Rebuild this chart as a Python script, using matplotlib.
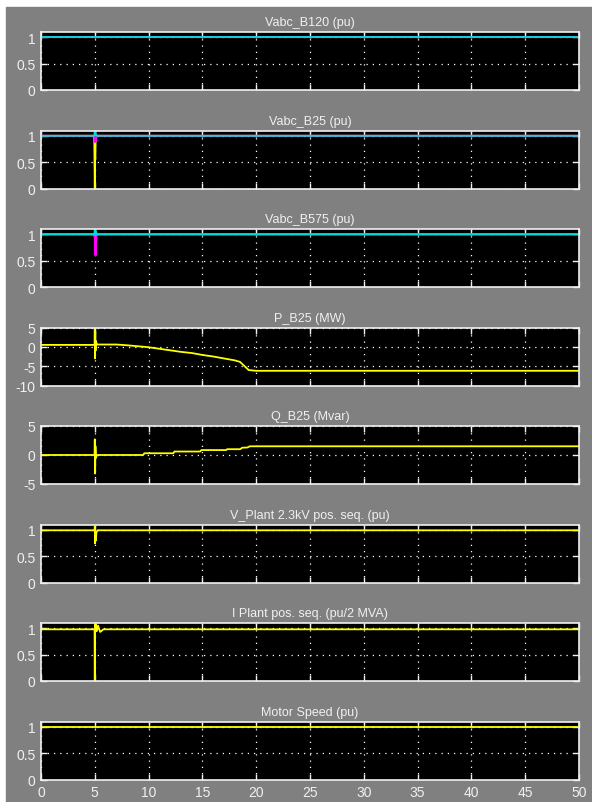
import matplotlib
matplotlib.use("Agg")
import matplotlib.pyplot as plt
from matplotlib.patches import Rectangle

plt.rcParams["font.family"] = ["Liberation Sans", "DejaVu Sans"]
plt.rcParams["axes.unicode_minus"] = False

YELLOW = "#ffff00"
MAGENTA = "#ff00ff"
CYAN = "#00dcdc"
FG = "#f0f0f0"

# time axis used for all traces (s)
t_flat = [0, 50]
t_fault = [0, 4.95, 5.0, 5.02, 5.05, 5.08, 5.12, 5.2, 50]

# Vabc_B120 (pu)
b120_a = [1.0, 1.0]
b120_b = [1.0, 1.0]
b120_c = [1.0, 1.0]

# Vabc_B25 (pu)
b25_a = [1.0, 1.0, 0.0, 0.6, 0.55, 0.92, 0.96, 1.0, 1.0]
b25_b = [1.0, 1.0, 1.03, 0.88, 0.93, 0.9, 0.96, 1.0, 1.0]
b25_c = [1.0, 1.0, 1.08, 1.03, 1.09, 1.01, 1.02, 1.0, 1.0]

# Vabc_B575 (pu)
b575_a = [1.0, 1.0, 0.94, 0.97, 0.99, 0.96, 0.99, 1.0, 1.0]
b575_b = [1.0, 1.0, 0.95, 0.62, 0.78, 0.6, 0.84, 1.0, 1.0]
b575_c = [1.0, 1.0, 1.08, 1.03, 1.09, 0.98, 1.04, 1.0, 1.0]

# P_B25 (MW)
t_p = [0, 4.98, 5.0, 5.02, 5.04, 5.07, 5.1, 5.2, 7, 8, 10, 11, 12, 13, 14,
       15, 16, 17, 18, 18.5, 19.3, 20, 50]
p_b25 = [0.5, 0.5, 5.0, -3.0, 4.0, -1.0, 1.5, 0.6, 0.6, 0.4, -0.1, -0.5,
         -0.9, -1.3, -1.6, -2.1, -2.5, -3.0, -3.5, -3.9, -6.0, -6.2, -6.2]

# Q_B25 (Mvar)
t_q = [0, 4.98, 5.0, 5.03, 5.06, 5.1, 5.2, 9.5, 9.6, 12.3, 12.4, 14.8, 14.9,
       17.2, 17.3, 18.5, 18.7, 19.2, 19.4, 50]
q_b25 = [0, 0, 2.7, -3.2, 1.5, -0.5, 0, 0, 0.3, 0.3, 0.6, 0.6, 0.85, 0.85,
         1.0, 1.0, 1.25, 1.3, 1.5, 1.5]

# V_Plant 2.3kV pos. seq. (pu)
t_vp = [0, 4.98, 5.0, 5.03, 5.06, 5.1, 5.15, 5.25, 50]
v_plant = [0.99, 0.99, 1.06, 0.74, 0.88, 0.8, 0.95, 0.99, 0.99]

# I Plant pos. seq. (pu/2 MVA)
t_ip = [0, 4.98, 5.0, 5.02, 5.05, 5.1, 5.2, 5.3, 5.5, 5.8, 50]
i_plant = [0.98, 0.98, 0.0, 1.08, 0.93, 1.08, 0.95, 1.05, 0.93, 0.98, 0.98]

# Motor Speed (pu)
motor_speed = [0.99, 0.99]

titles = ["Vabc_B120 (pu)", "Vabc_B25 (pu)", "Vabc_B575 (pu)", "P_B25 (MW)",
          "Q_B25 (Mvar)", "V_Plant 2.3kV pos. seq. (pu)",
          "I Plant pos. seq. (pu/2 MVA)", "Motor Speed (pu)"]

panels = [
    [(t_flat, b120_a, YELLOW), (t_flat, b120_b, MAGENTA), (t_flat, b120_c, CYAN)],
    [(t_fault, b25_a, YELLOW), (t_fault, b25_b, MAGENTA), (t_fault, b25_c, CYAN)],
    [(t_fault, b575_a, YELLOW), (t_fault, b575_b, MAGENTA), (t_fault, b575_c, CYAN)],
    [(t_p, p_b25, YELLOW)],
    [(t_q, q_b25, YELLOW)],
    [(t_vp, v_plant, YELLOW)],
    [(t_ip, i_plant, YELLOW)],
    [(t_flat, motor_speed, YELLOW)],
]

pu_ticks = ([0, 0.5, 1], ["0", "0.5", "1"], (0, 1.1))
limits = [pu_ticks, pu_ticks, pu_ticks,
          ([-10, -5, 0, 5], ["-10", "-5", "0", "5"], (-10, 5)),
          ([-5, 0, 5], ["-5", "0", "5"], (-5, 5)),
          pu_ticks, pu_ticks, pu_ticks]

W, H = 592, 803
fig = plt.figure(figsize=(W / 100, H / 100), dpi=100, facecolor="white")
fig.patches.append(Rectangle((6 / W, 0), 1 - 6 / W, 1 - 8 / H,
                             transform=fig.transFigure, color="#808080",
                             zorder=-10))

left, right = 41, 579
for i, (traces, title, (yt, ytl, ylim)) in enumerate(zip(panels, titles, limits)):
    top = 33 + 98.5 * i
    bottom = top + 58
    ax = fig.add_axes([left / W, 1 - bottom / H, (right - left) / W, 58 / H])
    ax.set_facecolor("black")
    for t, y, c in traces:
        ax.plot(t, y, color=c, lw=1.3)
    ax.set_xlim(0, 50)
    ax.set_ylim(*ylim)
    ax.set_xticks(range(0, 51, 5))
    ax.set_yticks(yt)
    ax.set_yticklabels(ytl)
    ax.grid(True, color="white", linestyle=(0, (1, 4)), lw=0.9)
    ax.tick_params(direction="in", length=4, width=1, color=FG,
                   labelcolor=FG, labelsize=10, top=True, right=True, pad=4)
    if i < 7:
        ax.tick_params(labelbottom=False)
    for s in ax.spines.values():
        s.set_color(FG)
        s.set_linewidth(1.2)
    ax.set_title(title, color=FG, fontsize=9, pad=5)

fig.savefig("out.png", dpi=100, facecolor=fig.get_facecolor())
